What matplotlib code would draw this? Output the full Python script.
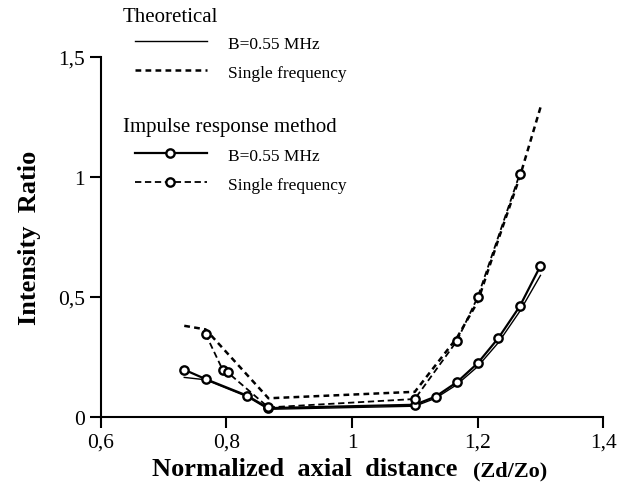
import matplotlib
matplotlib.use('Agg')
import matplotlib.pyplot as plt
from matplotlib.lines import Line2D

plt.rcParams['font.family'] = 'Liberation Serif'

# Theoretical curves
theo_x = [0.733, 0.767, 0.8, 0.833, 0.867, 1.1, 1.133, 1.167, 1.2, 1.233, 1.267, 1.3]
theo_b = [0.165, 0.155, 0.12, 0.085, 0.032, 0.045, 0.078, 0.135, 0.21, 0.31, 0.44, 0.59]
theo_sf_x = [0.733, 0.767, 0.867, 1.1, 1.167, 1.2, 1.233, 1.267, 1.3]
theo_sf = [0.38, 0.365, 0.078, 0.105, 0.33, 0.48, 0.74, 1.0, 1.29]

# Impulse response method
imp_b_x = [0.733, 0.767, 0.833, 0.867, 1.1, 1.133, 1.167, 1.2, 1.233, 1.267, 1.3]
imp_b = [0.197, 0.158, 0.089, 0.037, 0.051, 0.085, 0.145, 0.224, 0.329, 0.461, 0.63]
imp_sf_x = [0.767, 0.794, 0.802, 0.867, 1.1, 1.167, 1.2, 1.267]
imp_sf = [0.346, 0.197, 0.186, 0.040, 0.075, 0.317, 0.499, 1.0125]

xticks = [0.6, 0.8, 1.0, 1.2, 1.4]
xtick_labels = ['0,6', '0,8', '1', '1,2', '1,4']
yticks = [0, 0.5, 1, 1.5]
ytick_labels = ['0', '0,5', '1', '1,5']

W, H = 619, 489
fig = plt.figure(figsize=(W / 100, H / 100), dpi=100)
ax = fig.add_axes([100.7 / W, 1 - 418 / H, (603.3 - 100.7) / W, 360 / H])

ax.plot(theo_x, theo_b, color='black', lw=1.0)
ax.plot(theo_sf_x, theo_sf, color='black', lw=1.8, dashes=(2.3, 1.7))
ax.plot(imp_b_x, imp_b, color='black', lw=1.6, marker='o', ms=6,
        mfc='white', mec='black', mew=1.7)
ax.plot(imp_sf_x, imp_sf, color='black', lw=1.3, dashes=(3.5, 2.0), marker='o', ms=6,
        mfc='white', mec='black', mew=1.7)

ax.set_xlim(0.6, 1.4)
ax.set_ylim(0, 1.5)
ax.set_xticks(xticks)
ax.set_xticklabels(xtick_labels)
ax.set_yticks(yticks)
ax.set_yticklabels(ytick_labels)
ax.tick_params(labelsize=15.5, width=1.5, length=8, direction='out')
for s in ['top', 'right']:
    ax.spines[s].set_visible(False)
for s in ['left', 'bottom']:
    ax.spines[s].set_linewidth(1.5)

ax.set_ylabel('Intensity  Ratio', fontsize=19, fontweight='bold', labelpad=12)

fig.text(152 / W, 1 - 470 / H, 'Normalized  axial  distance', fontsize=19,
         fontweight='bold', ha='left', va='center')
fig.text(473 / W, 1 - 471 / H, '(Zd/Zo)', fontsize=16, fontweight='bold',
         ha='left', va='center')


# legend drawn by hand, in figure pixels
def fx(px):
    return px / W


def fy(py):
    return 1 - py / H


fig.text(fx(123), fy(18), 'Theoretical', fontsize=15, va='center')
fig.text(fx(123), fy(128), 'Impulse response method', fontsize=15, va='center')

rows = [
    (42, dict(lw=1.0), 'B=0.55 MHz'),
    (71, dict(lw=1.8, dashes=(2.3, 1.7)), 'Single frequency'),
    (154, dict(lw=1.6), 'B=0.55 MHz'),
    (183, dict(lw=1.3, dashes=(3.5, 2.0)), 'Single frequency'),
]
for i, (py, style, label) in enumerate(rows):
    fig.add_artist(Line2D([fx(135), fx(207)], [fy(py), fy(py)], color='black', **style))
    if i >= 2:
        fig.add_artist(Line2D([fx(170)], [fy(py)], marker='o', ms=6, mfc='white',
                              mec='black', mew=1.7, color='black'))
    fig.text(fx(228), fy(py + 3), label, fontsize=12.5, va='center')

fig.savefig('out.png', dpi=100)
